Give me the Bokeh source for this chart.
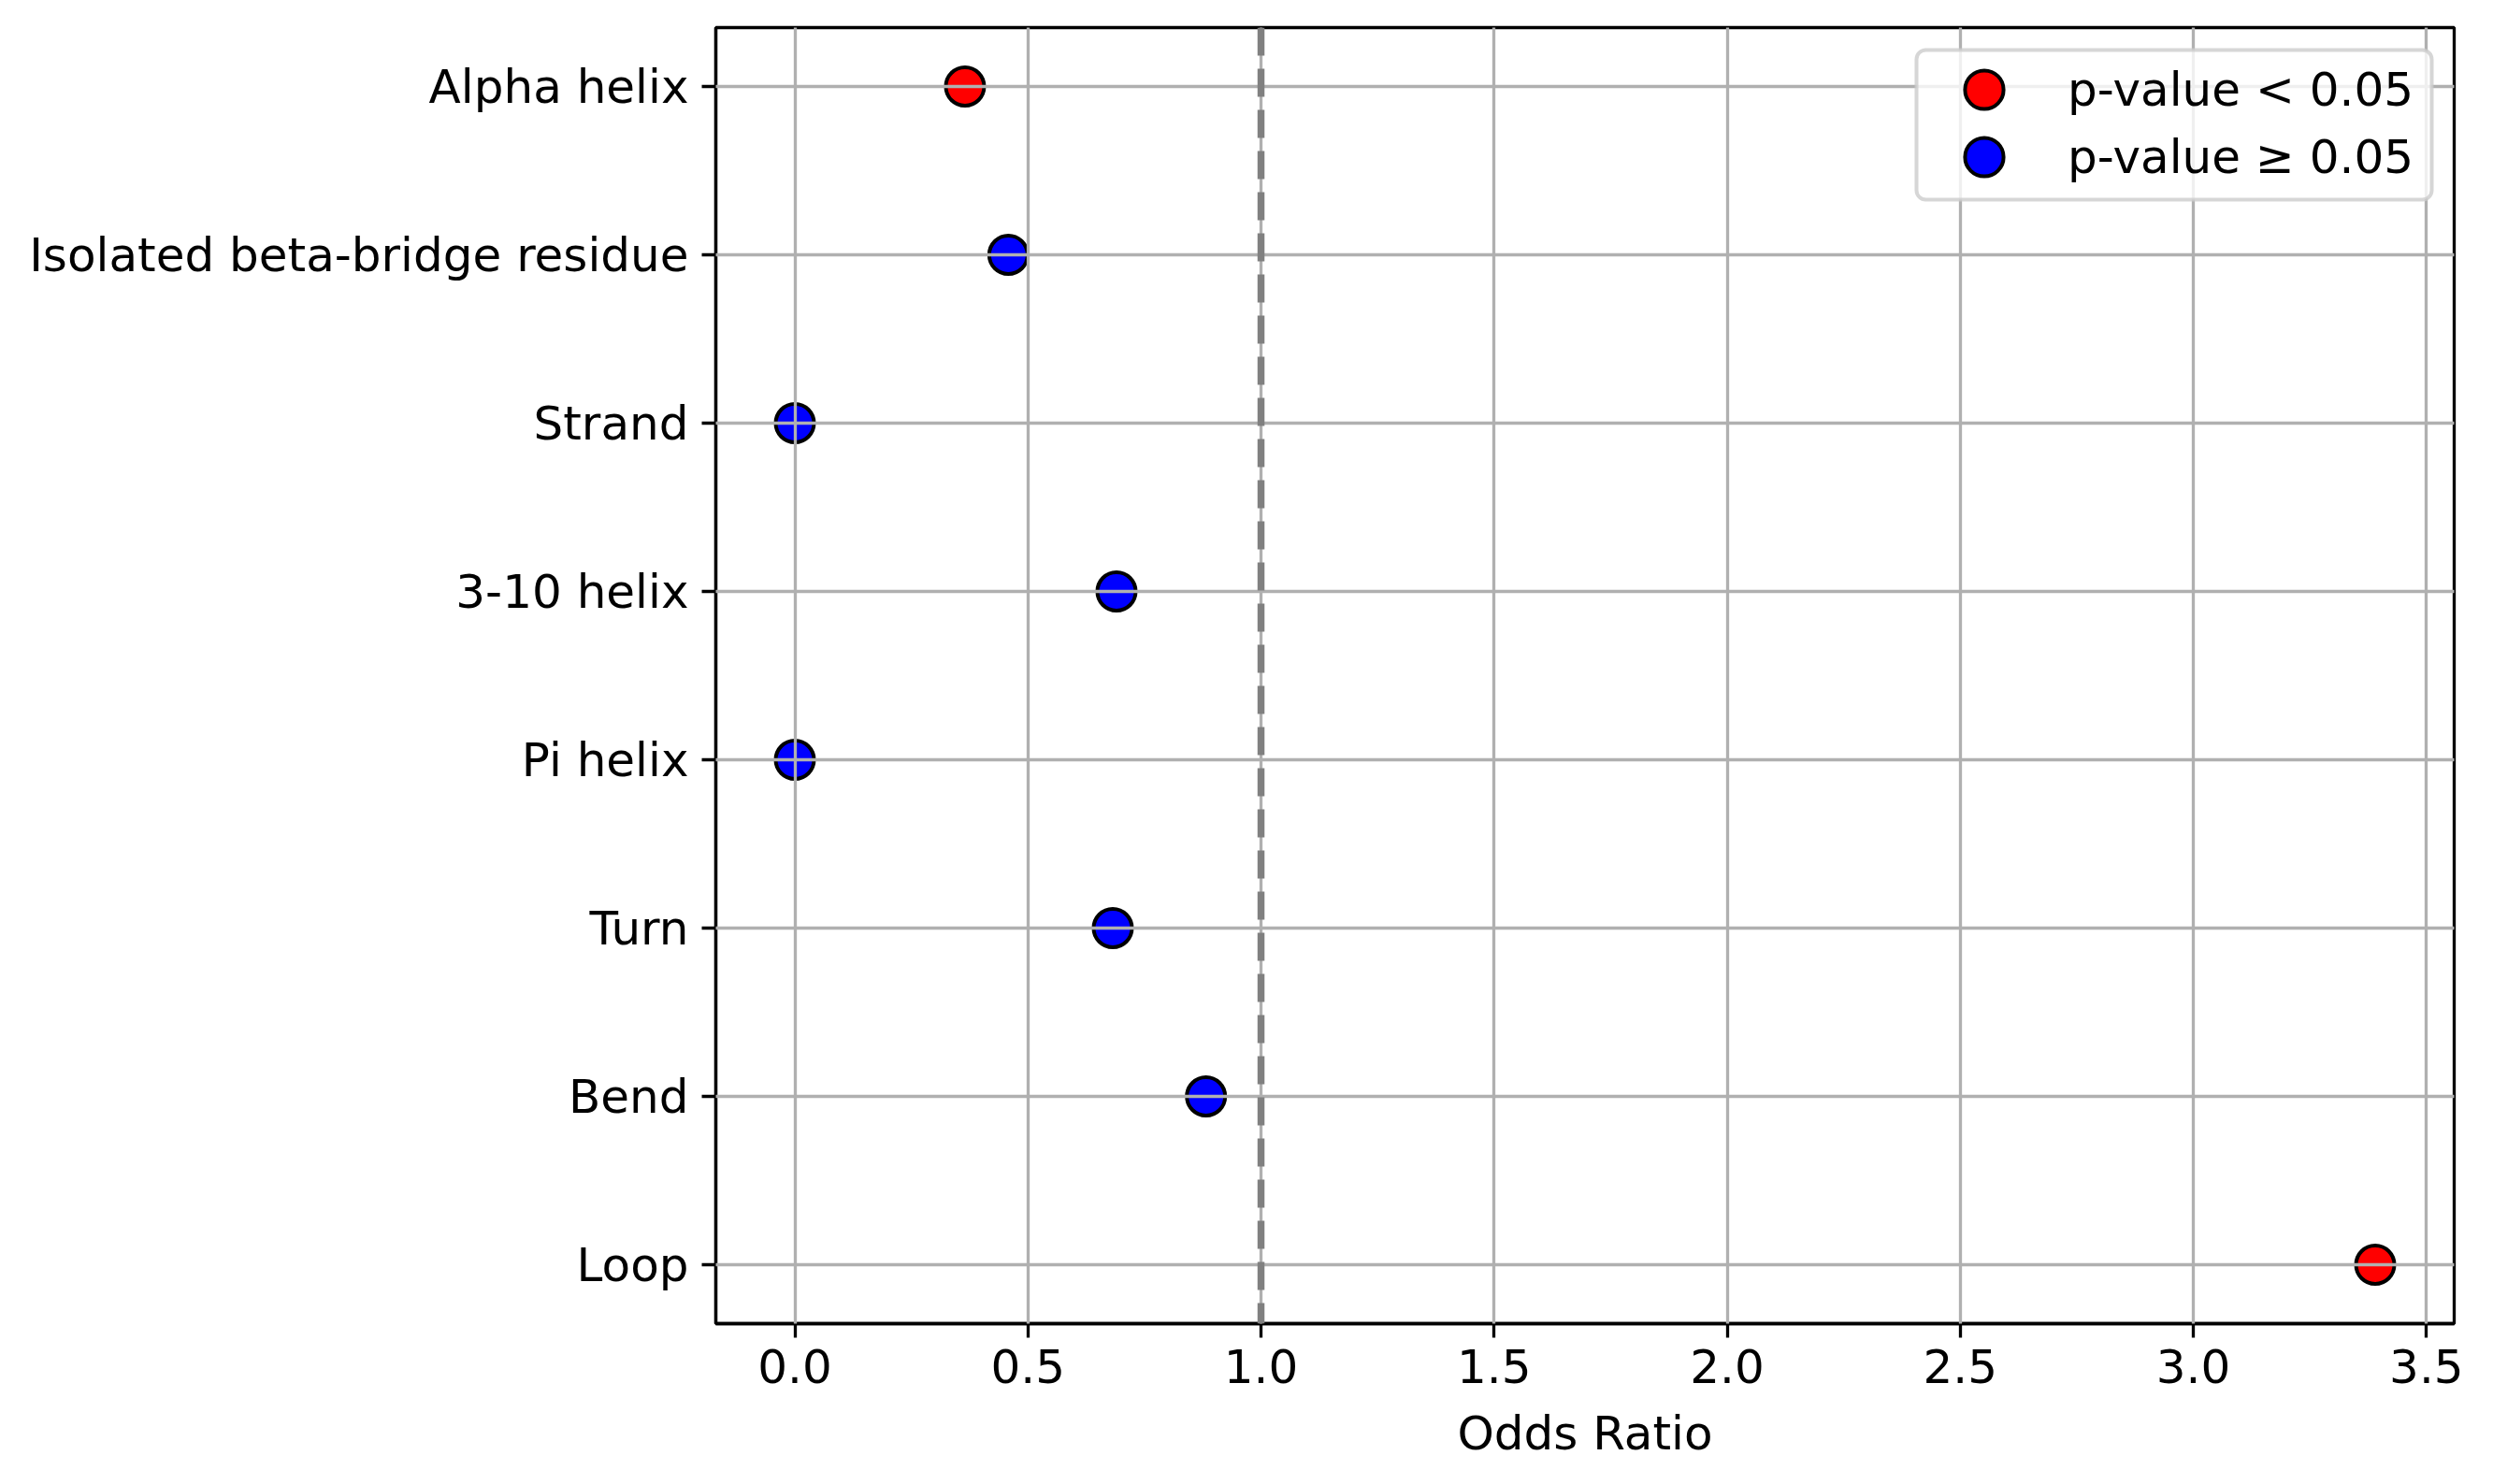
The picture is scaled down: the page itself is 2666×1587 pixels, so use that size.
from bokeh.plotting import figure
from bokeh.models import (ColumnDataSource, Range1d, FixedTicker, Span, Legend,
                          LegendItem, PrintfTickFormatter, BoxAnnotation)
from bokeh.embed import file_html
from bokeh.resources import INLINE

# ---- data (top to bottom as shown) ----
categories = ["Alpha helix", "Isolated beta-bridge residue", "Strand", "3-10 helix",
              "Pi helix", "Turn", "Bend", "Loop"]
odds_ratio = [0.365, 0.458, 0.0, 0.690, 0.0, 0.682, 0.882, 3.39]
significant = [True, False, False, False, False, False, False, True]
x_ticks = [0.0, 0.5, 1.0, 1.5, 2.0, 2.5, 3.0, 3.5]
legend_labels = ["p-value < 0.05", "p-value \u2265 0.05"]
group_colors = ["red", "blue"]
reference_value = 1.0
x_label = "Odds Ratio"

FONT = "DejaVu Sans"
FW, FH = 1859, 1386
n = len(categories)
ypos = [n - 1 - i for i in range(n)]

xmin, xmax = min(odds_ratio), max(odds_ratio)
xpad = 0.05 * (xmax - xmin)
ypad = 0.05 * (n - 1)

p = figure(frame_width=FW, frame_height=FH,
           x_range=Range1d(xmin - xpad, xmax + xpad),
           y_range=Range1d(-ypad, n - 1 + ypad),
           output_backend="svg", toolbar_location=None,
           min_border_left=765, min_border_top=29, min_border_right=42,
           min_border_bottom=164)
p.background_fill_color = "white"
p.border_fill_color = "white"
p.outline_line_color = "black"
p.outline_line_width = 3.3

renderers = []
for flag in (True, False):
    xs = [v for v, s in zip(odds_ratio, significant) if s == flag]
    ys = [y for y, s in zip(ypos, significant) if s == flag]
    src = ColumnDataSource(dict(x=xs, y=ys))
    r = p.scatter("x", "y", source=src, size=41,
                  fill_color=group_colors[0] if flag else group_colors[1],
                  line_color="black", line_width=4)
    renderers.append(r)

# axes
p.xaxis.ticker = FixedTicker(ticks=x_ticks)
p.xaxis.formatter = PrintfTickFormatter(format="%.1f")
p.yaxis.ticker = FixedTicker(ticks=ypos)
p.yaxis.major_label_overrides = {y: c for y, c in zip(ypos, categories)}
p.xaxis.axis_label = x_label

for ax in (p.xaxis[0], p.yaxis[0]):
    ax.major_label_text_font = FONT
    ax.major_label_text_font_size = "50px"
    ax.major_label_text_color = "black"
    ax.axis_label_text_font = FONT
    ax.axis_label_text_font_size = "50px"
    ax.axis_label_text_font_style = "normal"
    ax.axis_label_text_color = "black"
    ax.axis_line_color = "black"
    ax.axis_line_width = 3.3
    ax.major_tick_line_color = "black"
    ax.major_tick_line_width = 3.3
    ax.major_tick_out = 15
    ax.major_tick_in = 0
    ax.minor_tick_line_color = None
p.xaxis.major_label_standoff = 12
p.xaxis.axis_label_standoff = 22
p.yaxis.major_label_standoff = 14

# grid over markers
for g in (p.xgrid[0], p.ygrid[0]):
    g.grid_line_color = "#b0b0b0"
    g.grid_line_width = 3.3
    g.level = "guide"
p.xgrid.ticker = FixedTicker(ticks=x_ticks)
p.ygrid.ticker = FixedTicker(ticks=ypos)

# reference line
span = Span(location=reference_value, dimension="height", line_color="#808080",
            line_width=7.5, line_dash="30 14", level="annotation")
p.add_layout(span)

# legend frame (screen units, relative to the plot frame)
box = BoxAnnotation(left=1284, right=1835, top=FH - 24, bottom=FH - 184,
                    left_units="screen", right_units="screen",
                    top_units="screen", bottom_units="screen",
                    fill_color="white", fill_alpha=0.8,
                    line_color="#cccccc", line_alpha=0.8, line_width=4,
                    border_radius=10, level="annotation")
p.add_layout(box)

GH = 103
row_centers = [95 - 29, 168 - 29]  # distance from frame top
for lab, r, c in zip(legend_labels, renderers, row_centers):
    lg = Legend(items=[LegendItem(label=lab, renderers=[r])],
                location=(1305, int(round(FH - c - GH / 2))), margin=0, padding=0,
                spacing=0, glyph_height=GH, glyph_width=GH, label_standoff=38,
                label_height=50, label_width=360,
                label_text_font=FONT, label_text_font_size="50px",
                label_text_color="black",
                border_line_color=None, background_fill_color=None,
                background_fill_alpha=0)
    p.add_layout(lg)

open("out.html", "w").write(file_html(p, INLINE))
